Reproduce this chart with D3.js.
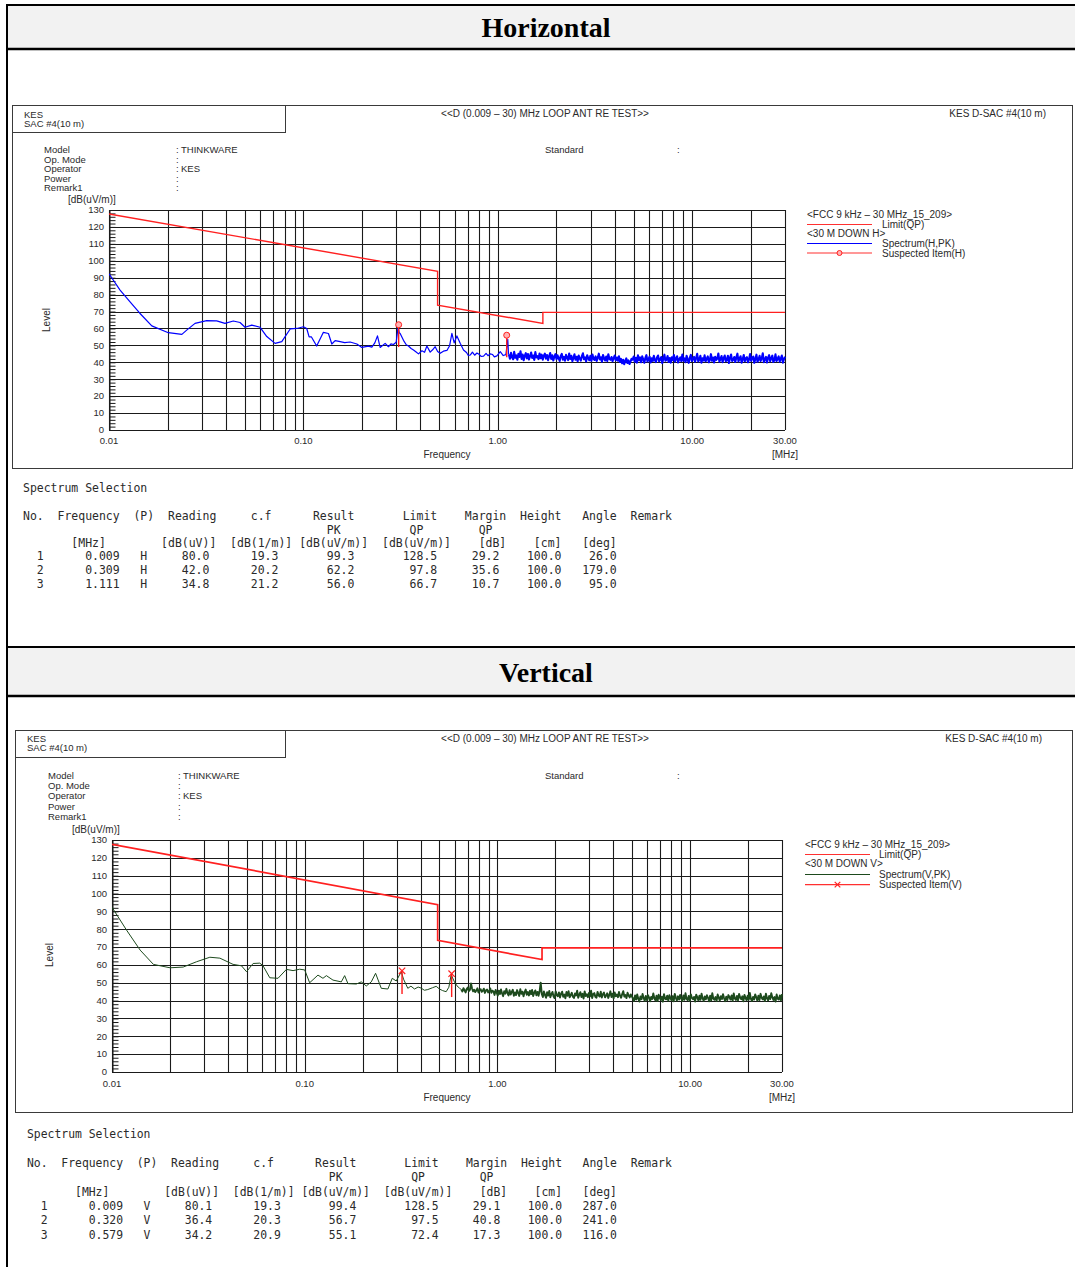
<!DOCTYPE html>
<html>
<head>
<meta charset="utf-8">
<script src="https://cdn.jsdelivr.net/npm/d3@7"></script>
<style>
  html, body { margin: 0; padding: 0; background: #fff; }
  svg { display: block; }
</style>
</head>
<body>
<svg id="page" width="1075" height="1267"></svg>
<script>
// ---------- axis values ----------
const freqTickValues = [0.01, 0.1, 1, 10, 30];
const freqTickLabels = ["0.01", "0.10", "1.00", "10.00", "30.00"];
const levelTickValues = [0, 10, 20, 30, 40, 50, 60, 70, 80, 90, 100, 110, 120, 130];

// ---------- FCC 15.209 limit (QP) vertices ----------
const limitFreq  = [0.01, 0.49, 0.49, 1.705, 1.705, 30];
const limitLevel = [127.6, 93.8, 73.8, 63.0, 69.5, 69.5];

// ---------- Horizontal spectrum, low-frequency part [MHz, dB(uV/m)] ----------
const hSpectrum = [
  [0.0100, 92.3], [0.0114, 82.7], [0.0128, 75.8], [0.0144, 69.0], [0.0166, 61.5],
  [0.0202, 57.5], [0.0237, 56.5], [0.0251, 59.0], [0.0277, 63.0], [0.0318, 64.6],
  [0.0358, 64.5], [0.0395, 63.0], [0.0436, 64.4], [0.0472, 63.5], [0.0501, 60.7],
  [0.0542, 62.0], [0.0599, 60.7], [0.0648, 55.2], [0.0715, 51.2], [0.0774, 52.2],
  [0.0855, 59.7], [0.0925, 60.0], [0.1000, 61.0], [0.1040, 60.0], [0.1070, 55.0],
  [0.1100, 55.0], [0.1170, 49.6], [0.1267, 57.7], [0.1345, 57.0], [0.1400, 50.8],
  [0.1456, 52.8], [0.1545, 52.2], [0.1630, 51.6], [0.1739, 52.0], [0.1883, 50.8],
  [0.1998, 48.8], [0.2160, 49.6], [0.2249, 49.0], [0.2330, 51.5], [0.2404, 55.6],
  [0.2481, 48.8], [0.2633, 51.2], [0.2738, 49.2], [0.2820, 50.9], [0.2906, 50.5],
  [0.3000, 51.8], [0.3070, 61.0], [0.3110, 57.5], [0.3145, 57.0], [0.3271, 53.0],
  [0.3380, 50.4], [0.3471, 49.6], [0.3580, 48.2], [0.3683, 47.3], [0.3800, 46.1],
  [0.3907, 45.0], [0.4068, 46.8], [0.4200, 45.9], [0.4316, 49.6], [0.4488, 46.0],
  [0.4620, 47.4], [0.4762, 49.2], [0.4900, 46.4], [0.5053, 45.3], [0.5250, 46.6],
  [0.5470, 47.0], [0.5650, 49.8], [0.5804, 57.1], [0.5964, 51.5], [0.6158, 55.6],
  [0.6404, 51.2], [0.6659, 47.3], [0.6900, 45.8], [0.7050, 44.0], [0.7211, 44.3],
  [0.7400, 46.0], [0.7600, 44.2], [0.7807, 45.5], [0.8000, 44.8], [0.8200, 43.5],
  [0.8443, 43.7], [0.8700, 45.3], [0.8900, 43.9], [0.9140, 45.0], [0.9400, 44.6],
  [0.9600, 43.2], [0.9890, 43.8], [1.0290, 46.3], [1.0660, 44.0], [1.1000, 44.5],
  [1.1250, 53.5], [1.1350, 45.0]
];

// ---------- Horizontal spectrum, swept noise floor 1.14 - 30 MHz ----------
const hNoiseRange = [1.14, 30];
const hNoise = [
  44.8,42.1,45.6,43.0,41.8,46.2,42.7,44.1,41.5,45.0,
  43.2,46.5,42.0,44.6,41.2,43.8,45.4,42.3,44.9,41.7,
  43.5,45.8,42.6,44.0,41.4,46.0,42.9,43.7,41.9,45.2,
  42.4,44.5,41.6,43.9,45.1,42.2,44.3,41.3,43.6,45.5,
  42.0,44.2,41.1,43.4,44.8,
  41.9,44.1,42.5,40.8,43.7,45.0,41.6,43.2,40.9,44.4,
  42.8,41.3,45.2,42.0,43.9,40.7,42.6,44.7,41.5,43.3,
  40.6,44.0,42.2,41.0,43.6,45.3,41.8,42.9,40.5,44.2,
  42.4,41.2,43.8,40.9,44.6,42.1,41.4,43.5,40.8,42.7,
  45.1,41.7,43.0,40.4,44.3,42.3,41.1,43.4,40.7,44.8,
  42.0,41.5,43.1,40.6,42.5,44.0,41.3,42.8,40.9,43.6,
  40.2,42.0,39.4,41.5,38.9,40.8,42.3,39.6,41.1,39.0,40.5,42.1,
  41.6,43.4,40.3,42.7,39.8,44.1,41.2,42.9,40.0,43.5,
  41.8,39.7,42.6,44.2,40.5,41.9,43.3,39.9,42.4,40.8,
  43.8,41.4,40.1,42.8,44.0,40.6,41.7,43.1,39.6,42.2,
  44.5,40.9,41.5,43.7,40.2,42.5,39.8,43.0,41.3,44.3,
  40.4,42.1,43.6,39.9,41.8,42.9,40.7,44.6,41.0,42.3,
  40.1,43.9,41.6,39.7,42.7,44.4,40.8,41.9,43.2,40.3,
  42.6,45.0,40.5,41.7,43.8,39.8,42.4,41.1,44.1,40.6,
  42.0,43.5,40.0,41.6,44.8,40.9,42.8,39.9,43.3,41.4,
  42.2,45.2,40.4,41.9,43.7,40.1,42.5,44.0,40.7,41.3,
  43.9,39.6,42.7,44.6,40.8,41.5,43.1,40.2,42.9,45.1,
  40.5,42.0,43.6,39.8,41.8,44.3,40.6,42.4,43.0,40.0,
  41.7,44.9,40.9,42.6,43.4,39.7,42.1,44.5,40.3,41.6,
  43.8,40.8,42.3,45.3,40.1,41.9,43.2,39.9,42.8,44.2,
  40.6,42.5,43.9,40.2,41.4,44.7,40.7,42.0,43.5,40.4,
  42.2,44.0,39.8,41.8,43.3
];

// ---------- Vertical spectrum, low-frequency part ----------
const vSpectrum = [
  [0.0100, 92.3], [0.0119, 79.5], [0.0140, 68.3], [0.0164, 60.3], [0.0200, 58.4],
  [0.0234, 58.8], [0.0275, 61.8], [0.0322, 64.3], [0.0363, 63.8], [0.0425, 60.3],
  [0.0470, 59.5], [0.0499, 56.2], [0.0540, 60.8], [0.0585, 61.0], [0.0608, 59.5],
  [0.0659, 52.8], [0.0727, 52.5], [0.0804, 57.5], [0.0870, 56.8], [0.0942, 57.6],
  [0.1000, 57.2], [0.1061, 50.0], [0.1172, 54.3], [0.1244, 52.5], [0.1296, 54.0],
  [0.1402, 51.5], [0.1549, 50.5], [0.1612, 54.0], [0.1677, 49.5], [0.1853, 49.3],
  [0.1967, 50.5], [0.2088, 48.2], [0.2216, 50.5], [0.2333, 55.3], [0.2497, 46.9],
  [0.2702, 46.5], [0.2848, 52.5], [0.2987, 51.0], [0.3170, 56.2], [0.3259, 52.0],
  [0.3429, 46.9], [0.3560, 48.1], [0.3715, 46.5], [0.3880, 47.6], [0.4025, 47.0],
  [0.4180, 45.8], [0.4354, 46.2], [0.4600, 47.2], [0.4813, 48.0], [0.5006, 46.5],
  [0.5200, 45.6], [0.5423, 45.0], [0.5600, 47.5], [0.5756, 54.5], [0.5987, 50.5],
  [0.6170, 48.3], [0.6356, 47.0]
];

// ---------- Vertical spectrum, swept noise floor 0.65 - 30 MHz ----------
const vNoiseRange = [0.65, 30];
const vNoise = [
  46.2,45.1,47.0,45.8,44.6,46.5,47.3,45.4,46.0,49.6,
  46.8,45.2,46.1,44.8,45.7,46.9,44.5,45.9,46.4,44.9,
  45.5,46.7,44.3,45.8,46.2,44.6,45.3,46.8,44.4,45.6,
  45.1,43.2,46.0,44.4,42.8,45.6,43.7,46.3,44.0,42.5,
  45.3,43.9,46.6,44.2,42.9,45.8,43.4,44.9,46.1,42.7,
  44.6,43.1,45.9,44.3,42.6,46.4,43.8,45.0,42.4,44.7,
  46.2,43.3,44.8,42.9,45.5,43.6,46.0,42.6,44.4,45.7,
  43.0,44.9,42.7,45.2,50.1,
  43.8,42.0,45.1,43.2,41.6,44.7,42.8,45.4,41.9,43.6,
  44.9,42.3,41.4,45.2,43.0,42.5,44.6,41.7,43.9,45.0,
  42.1,43.4,41.3,44.8,42.7,45.3,41.8,43.1,44.4,42.2,
  41.5,44.0,42.9,45.6,41.6,43.3,44.7,42.0,43.8,41.2,
  45.1,42.6,43.5,41.9,44.3,42.4,45.5,41.4,43.7,44.2,
  42.1,41.6,44.9,43.0,42.3,45.0,41.7,43.6,44.5,41.8,
  42.8,44.1,41.5,43.2,45.2,42.0,43.9,41.3,44.6,42.5,
  43.4,41.9,44.8,42.7,41.6,43.7,45.3,42.2,43.1,41.4,
  44.4,42.9,41.8,43.5,42.4,
  41.2,39.8,42.9,40.6,43.4,41.0,39.5,42.3,40.8,43.7,
  41.5,39.9,42.6,40.3,43.1,41.8,39.6,42.0,40.9,44.0,
  41.3,40.1,42.7,39.7,43.3,41.6,40.4,42.2,39.4,43.6,
  41.1,40.7,42.8,39.9,43.0,41.4,40.2,42.5,39.6,43.8,
  41.7,40.0,42.4,40.6,43.2,41.2,39.8,42.9,40.5,44.1,
  41.0,40.3,42.6,39.7,43.5,41.5,40.8,42.1,39.5,43.3,
  41.9,40.1,42.7,40.4,43.9,41.3,39.9,42.3,40.7,43.0,
  41.6,39.6,42.8,40.2,44.2,41.1,40.5,42.0,39.8,43.4,
  41.8,40.0,42.5,40.9,43.6,41.4,39.7,42.2,40.3,43.1,
  42.0,40.6,42.9,39.9,44.0,41.2,40.4,42.6,40.1,43.7,
  41.7,40.8,42.4,39.6,43.2,41.5,40.2,42.7,40.5,44.3,
  41.0,39.8,42.1,40.6,43.5,41.9,40.0,42.8,40.3,43.8,
  41.6,40.7,42.3,39.7,43.9,41.3,40.1,42.6,40.9,44.1,
  41.8,40.4,42.0,39.5,43.4,41.1,40.6,42.9,40.2,43.6
];

// ---------- Spectrum selection tables ----------
const hNo      = [1, 2, 3];
const hFreq    = [0.009, 0.309, 1.111];
const hPol     = ["H", "H", "H"];
const hReading = [80.0, 42.0, 34.8];
const hCf      = [19.3, 20.2, 21.2];
const hResult  = [99.3, 62.2, 56.0];
const hLimit   = [128.5, 97.8, 66.7];
const hMargin  = [29.2, 35.6, 10.7];
const hHeight  = [100.0, 100.0, 100.0];
const hAngle   = [26.0, 179.0, 95.0];
const hStickLow = [86.0, 49.0, 43.0];   // lower end of each suspected-item stick

const vNo      = [1, 2, 3];
const vFreq    = [0.009, 0.320, 0.579];
const vPol     = ["V", "V", "V"];
const vReading = [80.1, 36.4, 34.2];
const vCf      = [19.3, 20.3, 20.9];
const vResult  = [99.4, 56.7, 55.1];
const vLimit   = [128.5, 97.5, 72.4];
const vMargin  = [29.1, 40.8, 17.3];
const vHeight  = [100.0, 100.0, 100.0];
const vAngle   = [287.0, 241.0, 116.0];
const vStickLow = [86.0, 43.7, 42.0];

// ---------- drawing ----------
const SANS = "'Liberation Sans', Arial, Helvetica, sans-serif";
const MONO = "'DejaVu Sans Mono', 'Liberation Mono', monospace";
const svg = d3.select("#page");
let clipId = 0;

function label(g, x, y, s, o = {}) {
  return g.append("text")
    .attr("x", x).attr("y", y)
    .attr("font-family", SANS)
    .attr("font-size", o.size || 10)
    .attr("fill", o.fill || "#2a2a2a")
    .attr("text-anchor", o.anchor || "start")
    .text(s);
}

function sweep(range, levels) {
  // place swept samples evenly across the log frequency axis
  const pos = d3.scaleLinear().domain([0, levels.length - 1])
    .range([Math.log10(range[0]), Math.log10(range[1])]);
  return levels.map((v, i) => [Math.pow(10, pos(i)), v]);
}

function drawChart(c) {
  const g = svg.append("g");
  const F = c.frame;

  // frame and station box
  g.append("rect").attr("x", F.x + 0.5).attr("y", F.y + 0.5)
    .attr("width", F.w).attr("height", F.h)
    .attr("fill", "none").attr("stroke", "#3a3a3a").attr("stroke-width", 1);
  g.append("rect").attr("x", F.x + 0.5).attr("y", F.y + 0.5)
    .attr("width", c.kesW).attr("height", c.kesH)
    .attr("fill", "none").attr("stroke", "#3a3a3a").attr("stroke-width", 1);

  label(g, c.kesX, c.kesY1, "KES", { size: 9.5 });
  label(g, c.kesX, c.kesY2, "SAC #4(10 m)", { size: 9.5 });
  label(g, c.titleX, c.titleY, "<<D (0.009 \u2013 30) MHz LOOP ANT RE TEST>>", { anchor: "middle" });
  label(g, c.rightX, c.titleY, "KES D-SAC #4(10 m)", { anchor: "end" });

  const infoLabels = ["Model", "Op. Mode", "Operator", "Power", "Remark1"];
  const infoValues = ["THINKWARE", "", "KES", "", ""];
  infoLabels.forEach((s, i) => {
    const y = c.infoY + i * c.infoDy;
    label(g, c.infoX, y, s, { size: 9.5 });
    label(g, c.colonX, y, ":", { size: 9.5 });
    if (infoValues[i]) label(g, c.colonX + 5, y, infoValues[i], { size: 9.5 });
  });
  label(g, c.stdX, c.infoY, "Standard", { size: 9.5 });
  label(g, c.stdColonX, c.infoY, ":", { size: 9.5 });
  label(g, c.unitX, c.unitY, "[dB(uV/m)]");

  const P = c.plot;
  const x = d3.scaleLog().domain([0.01, 30]).range([P.l, P.r]);
  const y = d3.scaleLinear().domain([0, 130]).range([P.b, P.t]);

  // grid: decade sub-divisions and 10 dB lines
  g.append("g").selectAll("line").data(x.ticks()).join("line")
    .attr("x1", d => Math.round(x(d)) + 0.5).attr("x2", d => Math.round(x(d)) + 0.5)
    .attr("y1", P.t).attr("y2", P.b)
    .attr("stroke", "#1a1a1a").attr("stroke-width", 1.1);
  g.append("g").selectAll("line").data(levelTickValues).join("line")
    .attr("x1", P.l).attr("x2", P.r)
    .attr("y1", d => Math.round(y(d)) + 0.5).attr("y2", d => Math.round(y(d)) + 0.5)
    .attr("stroke", "#1a1a1a").attr("stroke-width", 1.1);

  // left axis with 2 dB minor ticks drawn inward
  const axis = d3.axisRight(y).tickValues(d3.range(0, 131, 2)).tickSize(6).tickFormat("");
  const ag = g.append("g").attr("transform", `translate(${P.l + 0.5},0)`).call(axis);
  ag.select(".domain").attr("stroke", "#1a1a1a");
  ag.selectAll(".tick line").attr("stroke", "#1a1a1a");

  levelTickValues.forEach(v => {
    label(g, c.yLabelX, y(v) + 3.3, String(v), { anchor: "end", size: 9.5 });
  });
  freqTickValues.forEach((f, i) => {
    label(g, x(f), c.xLabelY, freqTickLabels[i], { anchor: "middle", size: 9.5 });
  });
  label(g, c.freqX, c.freqY, "Frequency", { anchor: "middle" });
  label(g, P.r, c.freqY, "[MHz]", { anchor: "middle" });
  label(g, 0, 0, "Level", { anchor: "middle" })
    .attr("transform", `translate(${c.levelX},${c.levelY}) rotate(-90)`);

  // data layers clipped to the plot
  const id = "clip" + (clipId++);
  g.append("clipPath").attr("id", id).append("rect")
    .attr("x", P.l).attr("y", P.t - 2).attr("width", P.r - P.l + 1).attr("height", P.b - P.t + 4);
  const dg = g.append("g").attr("clip-path", `url(#${id})`);

  const line = d3.line().x(d => x(d[0])).y(d => y(d[1]));
  const noise = sweep(c.noiseRange, c.noise);
  dg.append("path").datum(c.spectrum.concat(noise.slice(0, 1))).attr("d", line)
    .attr("fill", "none").attr("stroke", c.color).attr("stroke-width", c.specWidth)
    .attr("stroke-linejoin", "round");
  dg.append("path").datum(noise).attr("d", line)
    .attr("fill", "none").attr("stroke", c.color).attr("stroke-width", c.noiseWidth)
    .attr("stroke-linejoin", "round");

  const lim = limitFreq.map((f, i) => [f, limitLevel[i]]);
  dg.append("path").datum(lim).attr("d", line)
    .attr("fill", "none").attr("stroke", "#ff2020").attr("stroke-width", c.limitWidth);

  // suspected items
  c.markFreq.forEach((f, i) => {
    if (f < 0.01) return;
    const mx = x(f);
    dg.append("line").attr("x1", mx).attr("x2", mx)
      .attr("y1", y(c.markLevel[i])).attr("y2", y(c.markLow[i]))
      .attr("stroke", "#ff1a1a").attr("stroke-width", 1.4);
    drawMarker(dg, c.marker, mx, y(c.markLevel[i]));
  });

  // legend
  const L = c.legend;
  label(g, L.x, L.y0, "<FCC 9 kHz \u2013 30 MHz_15_209>");
  g.append("line").attr("x1", L.x).attr("x2", L.x2).attr("y1", L.y0 + 6.5).attr("y2", L.y0 + 6.5)
    .attr("stroke", "#ff3030").attr("stroke-width", 1.2);
  label(g, L.tx, L.y0 + 9.5, "Limit(QP)");
  label(g, L.x, L.y0 + 19, c.downLabel);
  g.append("line").attr("x1", L.x).attr("x2", L.x2).attr("y1", L.y0 + 25.5 + c.legendGap).attr("y2", L.y0 + 25.5 + c.legendGap)
    .attr("stroke", c.color).attr("stroke-width", 1.2);
  label(g, L.tx, L.y0 + 28.5 + c.legendGap, c.specLabel);
  const sy = L.y0 + 35 + c.legendGap * 1.6;
  g.append("line").attr("x1", L.x).attr("x2", L.x2).attr("y1", sy).attr("y2", sy)
    .attr("stroke", "#ff3030").attr("stroke-width", 1.2);
  drawMarker(g, c.marker, (L.x + L.x2) / 2, sy, true);
  label(g, L.tx, sy + 3.5, c.itemLabel);
}

function drawMarker(g, kind, mx, my, small) {
  if (kind === "circle") {
    g.append("circle").attr("cx", mx).attr("cy", my).attr("r", small ? 2.5 : 3)
      .attr("fill", "#ffb3b3").attr("stroke", "#ff2020").attr("stroke-width", 1);
  } else {
    const s = small ? 2.8 : 3.2;
    g.append("path").attr("d", `M${mx - s},${my - s}L${mx + s},${my + s}M${mx - s},${my + s}L${mx + s},${my - s}`)
      .attr("stroke", "#ff2020").attr("stroke-width", 1.2);
  }
}

// fixed-pitch table rows laid out on character columns
function cells(list) {
  let s = "";
  list.forEach(([col, text, align]) => {
    const start = align === "r" ? col - text.length : col;
    if (s.length < start) s = s.padEnd(start, " ");
    s = s.slice(0, start) + text + s.slice(start + text.length);
  });
  return s;
}

function drawTable(t, d) {
  const g = svg.append("g");
  const row = (y, s) => g.append("text")
    .attr("transform", `translate(${t.x},${y}) scale(${t.sx},1)`)
    .attr("xml:space", "preserve").style("white-space", "pre")
    .attr("font-family", MONO).attr("font-size", 13).attr("fill", "#2a2a2a")
    .text(s);
  row(t.titleY, "Spectrum Selection");
  row(t.headY, cells([[0, "No."], [5, "Frequency"], [16, "(P)"], [21, "Reading"], [33, "c.f"],
    [42, "Result"], [55, "Limit"], [64, "Margin"], [72, "Height"], [81, "Angle"], [88, "Remark"]]));
  row(t.headY + t.dy, cells([[44, "PK"], [56, "QP"], [66, "QP"]]));
  row(t.unitY, cells([[7, "[MHz]"], [20, "[dB(uV)]"], [30, "[dB(1/m)]"], [40, "[dB(uV/m)]"],
    [52, "[dB(uV/m)]"], [66, "[dB]"], [74, "[cm]"], [81, "[deg]"]]));
  d.no.forEach((n, i) => {
    row(t.unitY + t.rowDy * (i + 1), cells([
      [3, String(n), "r"], [14, d.freq[i].toFixed(3), "r"], [17, d.pol[i]],
      [27, d.reading[i].toFixed(1), "r"], [37, d.cf[i].toFixed(1), "r"],
      [48, d.result[i].toFixed(1), "r"], [60, d.limit[i].toFixed(1), "r"],
      [69, d.margin[i].toFixed(1), "r"], [78, d.height[i].toFixed(1), "r"],
      [86, d.angle[i].toFixed(1), "r"]
    ]));
  });
}

// ---------- page frame and section headers ----------
function sectionHeader(yTop, yBottom, title, baseline) {
  svg.append("rect").attr("x", 8).attr("y", yTop).attr("width", 1067).attr("height", yBottom - yTop)
    .attr("fill", "#f2f2f2");
  svg.append("line").attr("x1", 7).attr("x2", 1075).attr("y1", yTop).attr("y2", yTop)
    .attr("stroke", "#000").attr("stroke-width", 2);
  svg.append("line").attr("x1", 7).attr("x2", 1075).attr("y1", yBottom).attr("y2", yBottom)
    .attr("stroke", "#000").attr("stroke-width", 2.5);
  svg.append("text").attr("x", 546).attr("y", baseline).attr("text-anchor", "middle")
    .attr("font-family", "'Liberation Serif', 'Times New Roman', serif")
    .attr("font-weight", "bold").attr("font-size", 28).attr("fill", "#000").text(title);
}
sectionHeader(5, 49, "Horizontal", 37);
sectionHeader(647, 696, "Vertical", 682);
svg.append("line").attr("x1", 7).attr("x2", 7).attr("y1", 4).attr("y2", 1267)
  .attr("stroke", "#000").attr("stroke-width", 2);

drawChart({
  frame: { x: 12, y: 105, w: 1060, h: 363 }, kesW: 273, kesH: 27,
  kesX: 24, kesY1: 118, kesY2: 127, titleX: 545, titleY: 117, rightX: 1046,
  infoX: 44, colonX: 176, infoY: 153, infoDy: 9.6, stdX: 545, stdColonX: 677,
  unitX: 68, unitY: 203,
  plot: { l: 109, r: 785, t: 210, b: 430 },
  yLabelX: 104, xLabelY: 444, freqX: 447, freqY: 458, levelX: 50, levelY: 320,
  spectrum: hSpectrum, noise: hNoise, noiseRange: hNoiseRange,
  color: "#0000ff", specWidth: 1.2, noiseWidth: 2.1, limitWidth: 1.4,
  markFreq: hFreq, markLevel: hResult, markLow: hStickLow, marker: "circle",
  legend: { x: 807, x2: 872, tx: 882, y0: 218 }, legendGap: 0,
  downLabel: "<30 M DOWN H>", specLabel: "Spectrum(H,PK)", itemLabel: "Suspected Item(H)"
});

drawChart({
  frame: { x: 15, y: 730, w: 1057, h: 382 }, kesW: 270, kesH: 27,
  kesX: 27, kesY1: 742, kesY2: 751, titleX: 545, titleY: 742, rightX: 1042,
  infoX: 48, colonX: 178, infoY: 779, infoDy: 10.2, stdX: 545, stdColonX: 677,
  unitX: 72, unitY: 833,
  plot: { l: 112, r: 782, t: 840, b: 1072 },
  yLabelX: 107, xLabelY: 1087, freqX: 447, freqY: 1101, levelX: 53, levelY: 955,
  spectrum: vSpectrum, noise: vNoise, noiseRange: vNoiseRange,
  color: "#1d4a1d", specWidth: 1, noiseWidth: 1.9, limitWidth: 1.7,
  markFreq: vFreq, markLevel: vResult, markLow: vStickLow, marker: "cross",
  legend: { x: 805, x2: 870, tx: 879, y0: 848 }, legendGap: 1,
  downLabel: "<30 M DOWN V>", specLabel: "Spectrum(V,PK)", itemLabel: "Suspected Item(V)"
});

drawTable({ x: 23, sx: 0.883, titleY: 491.5, headY: 519.5, dy: 14, unitY: 546.5, rowDy: 13.7 }, {
  no: hNo, freq: hFreq, pol: hPol, reading: hReading, cf: hCf, result: hResult,
  limit: hLimit, margin: hMargin, height: hHeight, angle: hAngle
});
drawTable({ x: 27, sx: 0.877, titleY: 1137.5, headY: 1166.5, dy: 14, unitY: 1195.5, rowDy: 14.4 }, {
  no: vNo, freq: vFreq, pol: vPol, reading: vReading, cf: vCf, result: vResult,
  limit: vLimit, margin: vMargin, height: vHeight, angle: vAngle
});
</script>
</body>
</html>
